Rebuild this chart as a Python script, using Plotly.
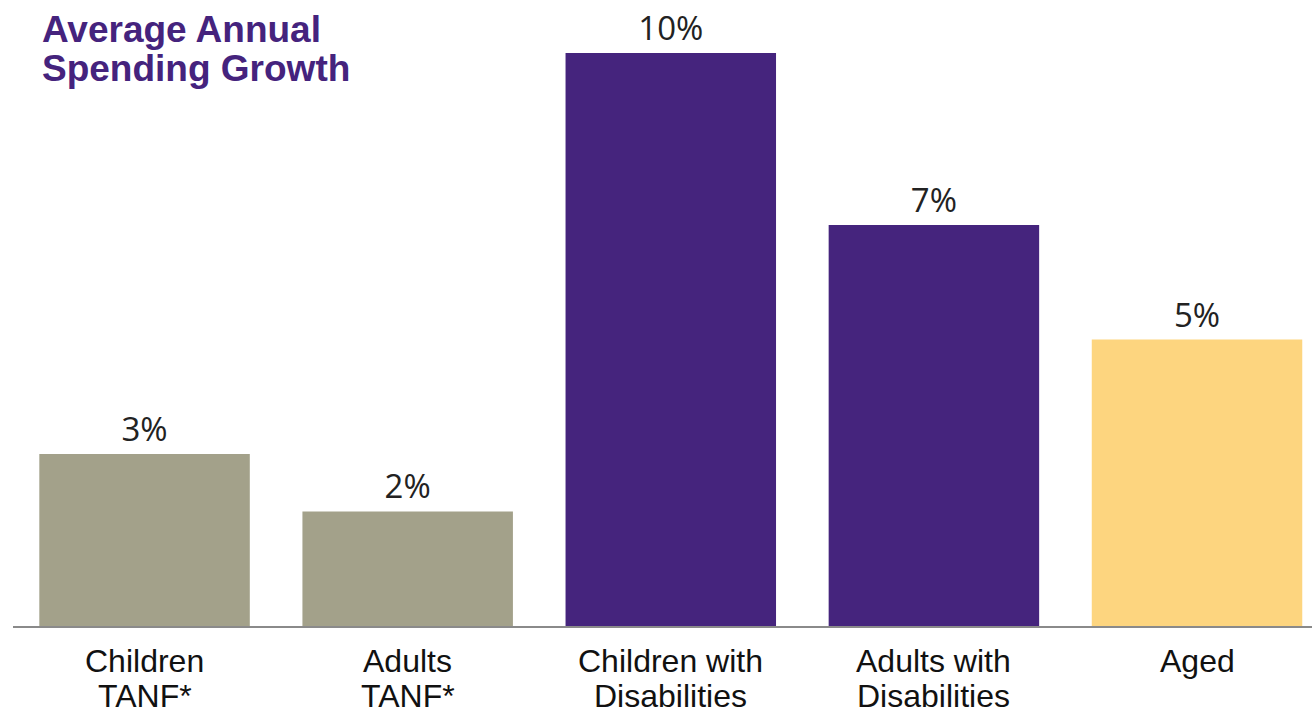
import plotly.graph_objects as go

# Spending growth by eligibility group
label_line1 = ["Children", "Adults", "Children with", "Adults with", "Aged"]
label_line2 = ["TANF*", "TANF*", "Disabilities", "Disabilities", ""]
categories = [a + " " + b if b else a for a, b in zip(label_line1, label_line2)]
growth_pct = [3, 2, 10, 7, 5]
bar_colors = ["#A3A18A", "#A3A18A", "#45247D", "#45247D", "#FDD57F"]

TITLE_COLOR = "#45237D"
W, H = 1312, 716
M_L, M_B = 13, 90

fig = go.Figure(
    go.Bar(
        x=categories,
        y=growth_pct,
        marker=dict(color=bar_colors, line=dict(width=0)),
        width=0.8,
        text=[f"{v}%" for v in growth_pct],
        textposition="outside",
        textfont=dict(family="Open Sans", size=33, color="#222222"),
        cliponaxis=False,
        hoverinfo="skip",
    )
)

annotations = []
# two-line category labels under the axis
for cat, l1, l2 in zip(categories, label_line1, label_line2):
    for line, shift in ((l1, -35), (l2, -70)):
        if not line:
            continue
        annotations.append(dict(
            x=cat, xref="x", y=0, yref="paper",
            text=line, showarrow=False,
            xanchor="center", yanchor="middle", yshift=shift,
            font=dict(family="Liberation Sans", size=32, color="#111111"),
        ))

# chart heading
for line, shift in (("Average Annual", -29), ("Spending Growth", -68)):
    annotations.append(dict(
        x=0, xref="paper", y=1, yref="paper",
        text=f"<b>{line}</b>", showarrow=False,
        xanchor="left", yanchor="middle", xshift=27, yshift=shift,
        font=dict(family="Liberation Sans", size=37, color=TITLE_COLOR),
    ))

fig.update_layout(
    width=W, height=H,
    margin=dict(l=M_L, r=0, t=0, b=M_B, pad=0),
    paper_bgcolor="white", plot_bgcolor="white",
    showlegend=False,
    annotations=annotations,
    xaxis=dict(
        type="category",
        range=[-0.5, 4.437],
        showticklabels=False,
        ticks="",
        showgrid=False,
        zeroline=False,
        showline=True, linecolor="#8A8A8A", linewidth=2,
        fixedrange=True,
    ),
    yaxis=dict(
        range=[0, 10.925],
        visible=False,
        showgrid=False,
        zeroline=False,
        fixedrange=True,
    ),
)

fig.write_html("out.html", config={"displayModeBar": False})
